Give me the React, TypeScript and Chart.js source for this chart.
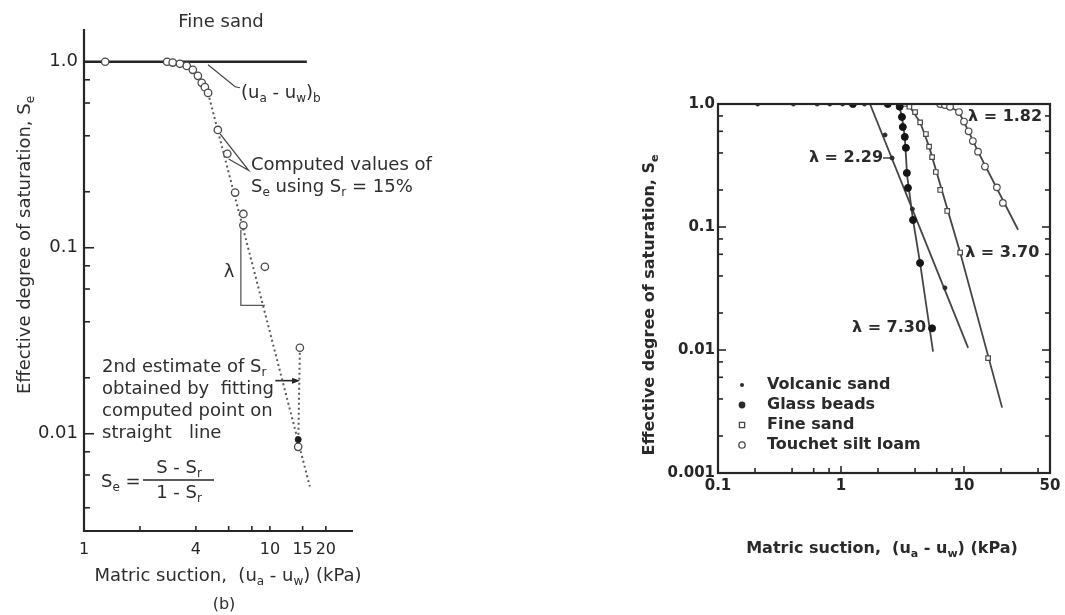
import React, { useEffect, useRef } from "react";
import { Chart, registerables } from "chart.js";

Chart.register(...registerables);

const FONT = '"DejaVu Sans", "Liberation Sans", Arial, sans-serif';
const INK = "#262626";
const GREY = "#4a4a4a";

/* ---------------- Left panel: Fine sand, (b) ---------------- */
const leftSuctionTicks = [1, 2, 4, 6, 8, 10, 15, 20];
const leftSuctionLabels = ["1", "", "4", "", "", "10", "15", "20"];
const leftSeTicks = [1, 0.8, 0.6, 0.4, 0.2, 0.1, 0.08, 0.06, 0.04, 0.02, 0.01, 0.008, 0.006, 0.004];
const leftSeLabels = ["1.0", "", "", "", "", "0.1", "", "", "", "", "0.01", "", "", ""];

const computedSuction = [1.3, 2.8, 3.0, 3.28, 3.57, 3.85, 4.1, 4.3, 4.47, 4.65, 5.25, 5.9, 6.5, 7.2, 7.2, 9.4, 14.5];
const computedSe = [1.0, 1.0, 0.99, 0.975, 0.95, 0.905, 0.84, 0.77, 0.73, 0.68, 0.43, 0.32, 0.198, 0.152, 0.132, 0.079, 0.029];
const secondEstSuction = [14.2];
const secondEstSe = [0.0085];
const fittedPointSuction = [14.2];
const fittedPointSe = [0.0093];
const saturatedSuction = [1, 15.8];
const saturatedSe = [1, 1];
const fitLineSuction = [4.65, 16.4];
const fitLineSe = [0.68, 0.0052];
const correctionSuction = [14.5, 14.2];
const correctionSe = [0.029, 0.0085];
const lambdaSuction = [6.98, 6.98, 9.4];
const lambdaSe = [0.125, 0.049, 0.049];
const estimateArrowSuction = [10.7, 14.0];
const estimateArrowSe = [0.0193, 0.0193];
const aevLeaderSuction = [4.65, 6.5, 6.9];
const aevLeaderSe = [0.963, 0.734, 0.725];
const computedLeaderSuction = [5.4, 7.7, 6.0];
const computedLeaderSe = [0.41, 0.26, 0.3];

/* ---------------- Right panel: four soils ---------------- */
const rightSuctionTicks = [0.1, 0.2, 0.4, 0.6, 0.8, 1, 2, 4, 6, 8, 10, 20, 40, 50];
const rightSuctionLabels = ["0.1", "", "", "", "", "1", "", "", "", "", "10", "", "", "50"];
const rightSeTicks = [1, 0.8, 0.6, 0.4, 0.2, 0.1, 0.08, 0.06, 0.04, 0.02, 0.01, 0.008, 0.006, 0.004, 0.002, 0.001];
const rightSeLabels = ["1.0", "", "", "", "", "0.1", "", "", "", "", "0.01", "", "", "", "", "0.001"];

const volcanicSuction = [0.21, 0.41, 0.64, 0.81, 1.03, 1.55, 2.28, 2.6, 3.8, 7.0];
const volcanicSe = [1, 1, 1, 1, 1, 1, 0.56, 0.364, 0.14, 0.032];
const volcanicLineSuction = [1.72, 10.8];
const volcanicLineSe = [1.0, 0.0104];

const glassSuction = [1.25, 2.4, 3.0, 3.13, 3.18, 3.3, 3.37, 3.43, 3.5, 3.85, 4.39, 5.5];
const glassSe = [1, 1, 0.95, 0.784, 0.65, 0.54, 0.44, 0.275, 0.208, 0.114, 0.051, 0.015];
const glassLineSuction = [2.95, 3.13, 3.3, 3.45, 3.85, 4.39, 5.6];
const glassLineSe = [1.0, 0.784, 0.54, 0.26, 0.114, 0.051, 0.0097];

const fineSuction = [3.3, 3.6, 4.0, 4.4, 4.9, 5.2, 5.5, 5.9, 6.4, 7.3, 9.3, 15.7];
const fineSe = [1.0, 0.95, 0.86, 0.71, 0.57, 0.45, 0.37, 0.28, 0.2, 0.135, 0.062, 0.0086];
const fineLineSuction = [3.5, 4.4, 5.2, 9.3, 20.4];
const fineLineSe = [1.0, 0.71, 0.45, 0.062, 0.0034];

const touchetSuction = [6.4, 7.0, 7.7, 9.1, 10.0, 10.9, 11.8, 13.0, 14.8, 18.5, 20.7];
const touchetSe = [1, 0.98, 0.95, 0.86, 0.72, 0.6, 0.5, 0.41, 0.31, 0.21, 0.157];
const touchetLineSuction = [6.0, 7.7, 9.1, 10.9, 13.0, 27.5];
const touchetLineSe = [1.0, 0.95, 0.86, 0.6, 0.41, 0.095];

const legendLabels = ["Volcanic sand", "Glass beads", "Fine sand", "Touchet silt loam"];
const lambdaLabels = ["λ = 1.82", "λ = 2.29", "λ = 3.70", "λ = 7.30"];

/* ---------------- helpers ---------------- */
type Seg = [string, number?];

const pts = (xs: number[], ys: number[]) => xs.map((x, i) => ({ x, y: ys[i] }));

function line(ctx: CanvasRenderingContext2D, x1: number, y1: number, x2: number, y2: number) {
  ctx.beginPath();
  ctx.moveTo(x1, y1);
  ctx.lineTo(x2, y2);
  ctx.stroke();
}

function rich(
  ctx: CanvasRenderingContext2D,
  segs: Seg[],
  x: number,
  y: number,
  size: number,
  align: "left" | "center" | "right" = "left",
  weight = "normal"
) {
  const f = (s: number) => `${weight} ${s}px ${FONT}`;
  let w = 0;
  const parts = segs.map((s) => {
    const sz = s[1] ? Math.round(size * 0.66) : size;
    ctx.font = f(sz);
    const mw = ctx.measureText(s[0]).width;
    w += mw;
    return { t: s[0], sub: !!s[1], sz, mw };
  });
  let cx = align === "left" ? x : align === "center" ? x - w / 2 : x - w;
  ctx.textAlign = "left";
  ctx.textBaseline = "middle";
  for (const p of parts) {
    ctx.font = f(p.sz);
    ctx.fillText(p.t, cx, y + (p.sub ? size * 0.3 : 0));
    cx += p.mw;
  }
  return w;
}

function logAxis(
  axis: "x" | "y",
  min: number,
  max: number,
  ticks: number[],
  labels: string[],
  size: number,
  pad: number,
  fontSize: number,
  weight: string
) {
  return {
    type: "logarithmic",
    position: axis === "x" ? "bottom" : "left",
    min,
    max,
    grid: { display: false, drawTicks: false },
    border: { display: false },
    title: { display: false },
    afterBuildTicks: (s: any) => {
      s.ticks = ticks.map((v) => ({ value: v }));
    },
    afterFit: (s: any) => {
      if (axis === "x") s.height = size;
      else s.width = size;
    },
    ticks: {
      autoSkip: false,
      maxRotation: 0,
      minRotation: 0,
      padding: pad,
      color: INK,
      font: { family: FONT, size: fontSize, weight },
      callback: (_v: any, i: number) => labels[i] ?? "",
    },
  };
}

const lineDs = (xs: number[], ys: number[], width: number, color: string, dash: number[] = []) => ({
  data: pts(xs, ys),
  showLine: true,
  borderColor: color,
  borderWidth: width,
  borderDash: dash,
  pointRadius: 0,
  fill: false,
  tension: 0,
  order: 2,
});

const markDs = (xs: number[], ys: number[], style: string, r: number, fillC: string, border: string, bw: number) => ({
  data: pts(xs, ys),
  showLine: false,
  pointStyle: style,
  pointRadius: r,
  pointBackgroundColor: fillC,
  pointBorderColor: border,
  pointBorderWidth: bw,
  order: 0,
});

/* ---------------- left decorations ---------------- */
const LF = 18;
const leftDecor = {
  id: "leftDecor",
  afterDraw(chart: any) {
    const { ctx, chartArea: a } = chart;
    const xs = chart.scales.x;
    const ys = chart.scales.y;
    ctx.save();
    ctx.strokeStyle = INK;
    ctx.fillStyle = INK;
    ctx.lineWidth = 2.2;
    line(ctx, a.left, a.top, a.left, a.bottom + 1);
    line(ctx, a.left - 1, a.bottom, a.right, a.bottom);
    ctx.lineWidth = 1.6;
    leftSeTicks.forEach((v, i) => {
      const p = ys.getPixelForValue(v);
      line(ctx, a.left, p, a.left + (leftSeLabels[i] ? 10 : 6), p);
    });
    leftSuctionTicks.forEach((v) => {
      const p = xs.getPixelForValue(v);
      line(ctx, p, a.bottom, p, a.bottom - 5);
    });

    // arrow head on 2nd-estimate pointer
    const ax = xs.getPixelForValue(estimateArrowSuction[1]);
    const ay = ys.getPixelForValue(estimateArrowSe[1]);
    ctx.beginPath();
    ctx.moveTo(ax + 3, ay);
    ctx.lineTo(ax - 5, ay - 3);
    ctx.lineTo(ax - 5, ay + 3);
    ctx.closePath();
    ctx.fill();

    ctx.fillStyle = "#2e2e2e";
    rich(ctx, [["Fine sand"]], 221, 22, LF, "center");
    rich(ctx, [["(u"], ["a", 1], [" - u"], ["w", 1], [")"], ["b", 1]], 241, 93, LF, "left");
    rich(ctx, [["Computed values of"]], 251, 165, LF, "left");
    rich(ctx, [["S"], ["e", 1], [" using S"], ["r", 1], [" = 15%"]], 251, 187, LF, "left");
    rich(ctx, [["λ"]], 229, 272, LF, "center");
    rich(ctx, [["2nd estimate of S"], ["r", 1]], 102, 367, LF, "left");
    rich(ctx, [["obtained by  fitting"]], 102, 389, LF, "left");
    rich(ctx, [["computed point on"]], 102, 411, LF, "left");
    rich(ctx, [["straight   line"]], 102, 433, LF, "left");

    // formula
    rich(ctx, [["S"], ["e", 1], [" ="]], 101, 482, LF, "left");
    ctx.lineWidth = 1.6;
    line(ctx, 143, 480, 214, 480);
    rich(ctx, [["S - S"], ["r", 1]], 179, 468, LF, "center");
    rich(ctx, [["1 - S"], ["r", 1]], 179, 493, LF, "center");

    // axis titles
    rich(ctx, [["Matric suction,  (u"], ["a", 1], [" - u"], ["w", 1], [") (kPa)"]], 228, 576, LF, "center");
    rich(ctx, [["(b)"]], 224, 605, 16, "center");
    ctx.save();
    ctx.translate(25, 245);
    ctx.rotate(-Math.PI / 2);
    rich(ctx, [["Effective degree of saturation, S"], ["e", 1]], 0, 0, LF, "center");
    ctx.restore();
    ctx.restore();
  },
};

/* ---------------- right decorations ---------------- */
const RF = 16;
const rightDecor = {
  id: "rightDecor",
  afterDraw(chart: any) {
    const { ctx, chartArea: a } = chart;
    const xs = chart.scales.x;
    const ys = chart.scales.y;
    ctx.save();
    ctx.strokeStyle = INK;
    ctx.fillStyle = INK;
    ctx.lineWidth = 2.2;
    ctx.strokeRect(a.left, a.top, a.right - a.left, a.bottom - a.top);
    ctx.lineWidth = 1.6;
    rightSeTicks.forEach((v, i) => {
      const p = ys.getPixelForValue(v);
      const len = rightSeLabels[i] ? 8 : 5;
      line(ctx, a.left, p, a.left + len, p);
      line(ctx, a.right, p, a.right - len, p);
    });
    rightSuctionTicks.forEach((v, i) => {
      const p = xs.getPixelForValue(v);
      line(ctx, p, a.bottom, p, a.bottom - (rightSuctionLabels[i] ? 7 : 5));
    });

    const W = "bold";
    ctx.fillStyle = "#2a2a2a";
    // lambda labels
    const tX = xs.getPixelForValue(touchetSuction[3]);
    const tY = ys.getPixelForValue(touchetSe[3]);
    rich(ctx, [[lambdaLabels[0]]], tX + 9, tY + 5, RF, "left", W);
    const vX = xs.getPixelForValue(volcanicSuction[7]);
    const vY = ys.getPixelForValue(volcanicSe[7]);
    ctx.lineWidth = 1.3;
    line(ctx, vX - 9, vY, vX - 1, vY);
    rich(ctx, [[lambdaLabels[1]]], vX - 9, vY, RF, "right", W);
    const fX = xs.getPixelForValue(fineSuction[10]);
    const fY = ys.getPixelForValue(fineSe[10]);
    rich(ctx, [[lambdaLabels[2]]], fX + 5, fY, RF, "left", W);
    const gX = xs.getPixelForValue(glassSuction[11]);
    const gY = ys.getPixelForValue(glassSe[11]);
    rich(ctx, [[lambdaLabels[3]]], gX - 6, gY, RF, "right", W);

    // legend
    const rowY = [a.bottom - 88, a.bottom - 68, a.bottom - 48, a.bottom - 28];
    const mx = a.left + 24;
    rowY.forEach((ry, i) => {
      ctx.lineWidth = 1.3;
      ctx.strokeStyle = GREY;
      ctx.fillStyle = "#2a2a2a";
      if (i === 0) {
        ctx.beginPath();
        ctx.arc(mx, ry, 2, 0, Math.PI * 2);
        ctx.fill();
      } else if (i === 1) {
        ctx.beginPath();
        ctx.arc(mx, ry, 3.4, 0, Math.PI * 2);
        ctx.fill();
      } else if (i === 2) {
        ctx.strokeRect(mx - 2.6, ry - 2.6, 5.2, 5.2);
      } else {
        ctx.beginPath();
        ctx.arc(mx, ry, 3.2, 0, Math.PI * 2);
        ctx.stroke();
      }
      rich(ctx, [[legendLabels[i]]], mx + 25, ry, RF, "left", W);
    });

    // axis titles
    rich(ctx, [["Matric suction,  (u"], ["a", 1], [" - u"], ["w", 1], [") (kPa)"]], 322, 549, RF, "center", W);
    ctx.save();
    ctx.translate(90, 305);
    ctx.rotate(-Math.PI / 2);
    rich(ctx, [["Effective degree of saturation, S"], ["e", 1]], 0, 0, RF, "center", W);
    ctx.restore();
    ctx.restore();
  },
};

/* ---------------- configs ---------------- */
function leftConfig(): any {
  return {
    type: "scatter",
    data: {
      datasets: [
        markDs(fittedPointSuction, fittedPointSe, "circle", 3, "#1e1e1e", "#1e1e1e", 1),
        markDs(computedSuction, computedSe, "circle", 3.7, "#ffffff", GREY, 1.3),
        markDs(secondEstSuction, secondEstSe, "circle", 3.7, "#ffffff", GREY, 1.3),
        lineDs(saturatedSuction, saturatedSe, 2.4, INK),
        lineDs(fitLineSuction, fitLineSe, 2, "#5a5a5a", [2, 3]),
        lineDs(correctionSuction, correctionSe, 2, "#5a5a5a", [2, 3]),
        lineDs(lambdaSuction, lambdaSe, 1.3, "#5a5a5a"),
        lineDs(estimateArrowSuction, estimateArrowSe, 1.6, INK),
        lineDs(aevLeaderSuction, aevLeaderSe, 1.2, "#444444"),
        lineDs(computedLeaderSuction, computedLeaderSe, 1.2, "#444444"),
      ],
    },
    options: {
      animation: false,
      responsive: false,
      devicePixelRatio: 1,
      events: [],
      layout: { padding: { top: 29, right: 207, left: 0, bottom: 0 } },
      plugins: { legend: { display: false }, tooltip: { enabled: false } },
      scales: {
        x: logAxis("x", 1, 28, leftSuctionTicks, leftSuctionLabels, 84, 9, 16, "normal"),
        y: logAxis("y", 0.003, 1.5, leftSeTicks, leftSeLabels, 84, 6, LF, "normal"),
      },
    },
    plugins: [leftDecor],
  };
}

function rightConfig(): any {
  return {
    type: "scatter",
    data: {
      datasets: [
        markDs(volcanicSuction, volcanicSe, "circle", 2, "#2a2a2a", "#2a2a2a", 1),
        markDs(glassSuction, glassSe, "circle", 3.5, "#151515", "#151515", 1),
        markDs(fineSuction, fineSe, "rect", 3.2, "#ffffff", GREY, 1.2),
        markDs(touchetSuction, touchetSe, "circle", 3.3, "#ffffff", GREY, 1.2),
        lineDs(volcanicLineSuction, volcanicLineSe, 1.8, "#454545"),
        lineDs(glassLineSuction, glassLineSe, 1.8, "#454545"),
        lineDs(fineLineSuction, fineLineSe, 1.8, "#454545"),
        lineDs(touchetLineSuction, touchetLineSe, 1.8, "#454545"),
      ],
    },
    options: {
      animation: false,
      responsive: false,
      devicePixelRatio: 1,
      events: [],
      layout: { padding: { top: 104, right: 15, left: 0, bottom: 0 } },
      plugins: { legend: { display: false }, tooltip: { enabled: false } },
      scales: {
        x: logAxis("x", 0.1, 50, rightSuctionTicks, rightSuctionLabels, 142, 4, 15, "bold"),
        y: logAxis("y", 0.001, 1, rightSeTicks, rightSeLabels, 158, 3, 15, "bold"),
      },
    },
    plugins: [rightDecor],
  };
}

function Panel(props: { make: () => any; left: number; width: number }) {
  const ref = useRef<HTMLCanvasElement | null>(null);
  useEffect(() => {
    const chart = new Chart(ref.current as HTMLCanvasElement, props.make());
    return () => chart.destroy();
  }, []);
  return (
    <canvas
      ref={ref}
      width={props.width}
      height={615}
      style={{ position: "absolute", left: props.left, top: 0, width: props.width, height: 615 }}
    />
  );
}

export default function App() {
  return (
    <div style={{ position: "absolute", left: 0, top: 0, width: 1065, height: 615, background: "#ffffff", overflow: "hidden" }}>
      <Panel make={leftConfig} left={0} width={560} />
      <Panel make={rightConfig} left={560} width={505} />
    </div>
  );
}
